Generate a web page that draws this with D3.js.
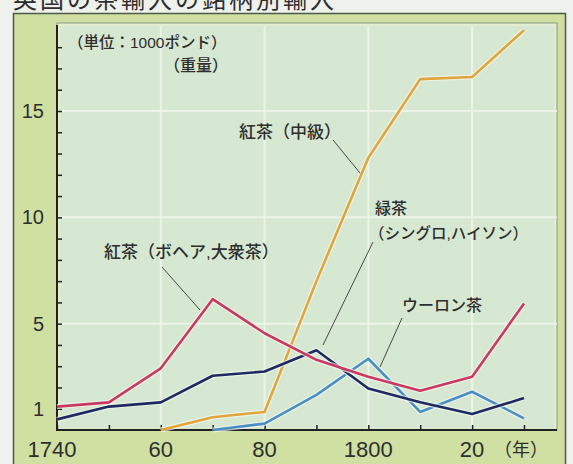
<!DOCTYPE html>
<html><head><meta charset="utf-8">
<script src="https://cdn.jsdelivr.net/npm/d3@7"></script>
<style>
html,body{margin:0;padding:0;background:#eef1ec;}
svg{display:block;}
text{font-family:"Liberation Sans","Noto Sans CJK JP",sans-serif;fill:#2e2e2e;}
</style></head>
<body>
<svg id="chart" width="573" height="464"></svg>
<script>
const years = [1740,1750,1760,1770,1780,1790,1800,1810,1820,1830];
const boheaBlack = [1.1,1.3,2.9,6.15,4.55,3.3,2.5,1.85,2.5,5.95];
const greenTea  = [0.5,1.1,1.3,2.55,2.75,3.75,1.95,1.3,0.75,1.5];
const midBlack  = [null,null,0,0.6,0.85,7.0,12.8,16.5,16.6,18.8];
const oolong    = [null,null,null,0,0.3,1.65,3.35,0.85,1.8,0.55];
const yTickValues = [1,2,3,4,5,6,7,8,9,10,11,12,13,14,15,16,17,18];
const yTickLabels = {1:"1",5:"5",10:"10",15:"15"};
const xTickLabels = [[1740,"1740"],[1760,"60"],[1780,"80"],[1800,"1800"],[1820,"20"]];
const titleText = "英国の茶輸入の銘柄別輸入";

const svg = d3.select("#chart");
const x = d3.scaleLinear().domain([1740,1830]).range([57,524]);
const y = d3.scaleLinear().domain([0,15]).range([430,111]);

// title (cut off at top, as in the source image)
svg.append("text").attr("x",13).attr("y",8).attr("font-size",24)
  .attr("letter-spacing","3px").attr("fill","#333").text(titleText);

// outer frame band
svg.append("rect").attr("x",13.5).attr("y",13.5).attr("width",552).attr("height",460)
  .attr("fill","#cfe0a2").attr("stroke","#4d5a45").attr("stroke-width",1.5);
// plot area
svg.append("rect").attr("x",57).attr("y",23).attr("width",500).attr("height",407)
  .attr("fill","#e2eed0").attr("stroke","#8a9a80").attr("stroke-width",1);
svg.append("rect").attr("x",60).attr("y",26).attr("width",494).attr("height",404)
  .attr("fill","#d6e8d2");

// grid
const g = svg.append("g");
[5,10,15].forEach(v=>{
  g.append("line").attr("x1",57).attr("x2",557).attr("y1",y(v)).attr("y2",y(v))
   .attr("stroke","#f2f8ee").attr("stroke-width",2).attr("opacity",0.8);
});
[1760,1780,1800,1820].forEach(v=>{
  g.append("line").attr("y1",26).attr("y2",430).attr("x1",x(v)).attr("x2",x(v))
   .attr("stroke","#f2f8ee").attr("stroke-width",2).attr("opacity",0.8);
});

// axes
const yAxis = d3.axisLeft(y).tickValues(yTickValues).tickSize(-5).tickPadding(13)
  .tickFormat(d=>yTickLabels[d]||"");
const ya = svg.append("g").attr("transform","translate(57,0)").call(yAxis);
ya.select(".domain").remove();
ya.selectAll(".tick line").attr("stroke","#222").attr("stroke-width",1.5);
ya.selectAll(".tick text").attr("font-size",20).attr("fill","#222")
  .attr("font-family","Liberation Sans, sans-serif");
svg.append("line").attr("x1",57).attr("x2",57).attr("y1",25).attr("y2",431)
  .attr("stroke","#222").attr("stroke-width",2);

const xAxis = d3.axisBottom(x).tickValues(years).tickSize(-5).tickFormat("");
const xa = svg.append("g").attr("transform","translate(0,430)").call(xAxis);
xa.select(".domain").remove();
xa.selectAll(".tick line").attr("stroke","#222").attr("stroke-width",1.5);
svg.append("line").attr("x1",56).attr("x2",557).attr("y1",430).attr("y2",430)
  .attr("stroke","#222").attr("stroke-width",2);

xTickLabels.forEach(([v,t],i)=>{
  svg.append("text").attr("x",x(v)-(i===0?5:0)).attr("y",457).attr("text-anchor","middle")
    .attr("font-size",22).attr("fill","#222").text(t);
});
svg.append("text").attr("x",494).attr("y",456).attr("font-size",18).attr("fill","#222").text("（年）");

// lines
const line = d3.line().defined(d=>d[1]!==null).x(d=>x(d[0])).y(d=>y(d[1]));
const series = [
  {v:oolong, c:"#4a8ec4"},
  {v:midBlack, c:"#e0a53c"},
  {v:greenTea, c:"#1f2a60"},
  {v:boheaBlack, c:"#c83a62"}
];
const lg = svg.append("g");
series.forEach(s=>{
  const pts = years.map((yr,i)=>[yr,s.v[i]]);
  lg.append("path").attr("d",line(pts)).attr("fill","none").attr("stroke","#f4f8f0")
    .attr("stroke-width",5).attr("opacity",0.7).attr("stroke-linejoin","round");
  lg.append("path").attr("d",line(pts)).attr("fill","none").attr("stroke",s.c)
    .attr("stroke-width",2.6).attr("stroke-linejoin","round");
});

// annotations
const ann = svg.append("g").attr("font-size",16).attr("font-weight",500);
ann.append("text").attr("x",68).attr("y",48).attr("font-size",15.5).text("（単位：1000ポンド）");
ann.append("text").attr("x",164).attr("y",71).text("（重量）");
ann.append("text").attr("x",239).attr("y",138).attr("font-size",17).text("紅茶（中級）");
ann.append("text").attr("x",375).attr("y",214).text("緑茶");
ann.append("text").attr("x",369).attr("y",239).attr("font-size",15.5).text("（シングロ,ハイソン）");
ann.append("text").attr("x",104).attr("y",258).attr("font-size",17).text("紅茶（ボヘア,大衆茶）");
ann.append("text").attr("x",402).attr("y",311).text("ウーロン茶");
const leaders = [[333,140,360,173],[373,242,323,345],[162,267,200,310],[402,318,380,367]];
leaders.forEach(l=>{
  svg.append("line").attr("x1",l[0]).attr("y1",l[1]).attr("x2",l[2]).attr("y2",l[3])
    .attr("stroke","#4a4a4a").attr("stroke-width",1);
});
</script>
</body></html>
